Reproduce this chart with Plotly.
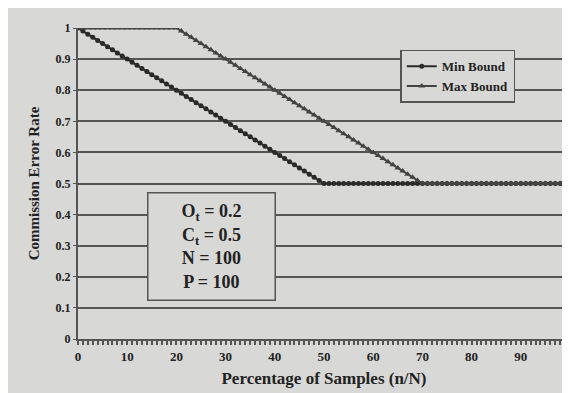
import plotly.graph_objects as go

pct = list(range(0, 101))
min_bound = [1.00, 0.99, 0.98, 0.97, 0.96, 0.95, 0.94, 0.93, 0.92, 0.91,
             0.90, 0.89, 0.88, 0.87, 0.86, 0.85, 0.84, 0.83, 0.82, 0.81,
             0.80, 0.79, 0.78, 0.77, 0.76, 0.75, 0.74, 0.73, 0.72, 0.71,
             0.70, 0.69, 0.68, 0.67, 0.66, 0.65, 0.64, 0.63, 0.62, 0.61,
             0.60, 0.59, 0.58, 0.57, 0.56, 0.55, 0.54, 0.53, 0.52, 0.51,
             0.50, 0.50, 0.50, 0.50, 0.50, 0.50, 0.50, 0.50, 0.50, 0.50,
             0.50, 0.50, 0.50, 0.50, 0.50, 0.50, 0.50, 0.50, 0.50, 0.50,
             0.50, 0.50, 0.50, 0.50, 0.50, 0.50, 0.50, 0.50, 0.50, 0.50,
             0.50, 0.50, 0.50, 0.50, 0.50, 0.50, 0.50, 0.50, 0.50, 0.50,
             0.50, 0.50, 0.50, 0.50, 0.50, 0.50, 0.50, 0.50, 0.50, 0.50,
             0.50]
max_bound = [1.00, 1.00, 1.00, 1.00, 1.00, 1.00, 1.00, 1.00, 1.00, 1.00,
             1.00, 1.00, 1.00, 1.00, 1.00, 1.00, 1.00, 1.00, 1.00, 1.00,
             1.00, 0.99, 0.98, 0.97, 0.96, 0.95, 0.94, 0.93, 0.92, 0.91,
             0.90, 0.89, 0.88, 0.87, 0.86, 0.85, 0.84, 0.83, 0.82, 0.81,
             0.80, 0.79, 0.78, 0.77, 0.76, 0.75, 0.74, 0.73, 0.72, 0.71,
             0.70, 0.69, 0.68, 0.67, 0.66, 0.65, 0.64, 0.63, 0.62, 0.61,
             0.60, 0.59, 0.58, 0.57, 0.56, 0.55, 0.54, 0.53, 0.52, 0.51,
             0.50, 0.50, 0.50, 0.50, 0.50, 0.50, 0.50, 0.50, 0.50, 0.50,
             0.50, 0.50, 0.50, 0.50, 0.50, 0.50, 0.50, 0.50, 0.50, 0.50,
             0.50, 0.50, 0.50, 0.50, 0.50, 0.50, 0.50, 0.50, 0.50, 0.50,
             0.50]
x_ticks = [0, 10, 20, 30, 40, 50, 60, 70, 80, 90]
y_ticks = [0, 0.1, 0.2, 0.3, 0.4, 0.5, 0.6, 0.7, 0.8, 0.9, 1]
y_tick_text = ["0", "0.1", "0.2", "0.3", "0.4", "0.5", "0.6", "0.7", "0.8", "0.9", "1"]
params_text = "<b>O<sub>t</sub> = 0.2<br>C<sub>t</sub> = 0.5<br>N = 100<br>P = 100</b>"

BG = "#d8d8d6"
INK = "#2a2a2a"
GRID = "#555555"
SERIF = "Liberation Serif"

fig = go.Figure()
fig.add_trace(go.Scatter(
    x=pct, y=min_bound, name="Min Bound", mode="lines+markers",
    line=dict(color=INK, width=2),
    marker=dict(symbol="circle", size=5, color=INK),
))
fig.add_trace(go.Scatter(
    x=pct, y=max_bound, name="Max Bound", mode="lines+markers",
    line=dict(color="#444444", width=2),
    marker=dict(symbol="triangle-up", size=6, color="#444444"),
))

fig.update_layout(
    width=570, height=393,
    margin=dict(l=70, r=8, t=20, b=62),
    paper_bgcolor=BG, plot_bgcolor=BG,
    font=dict(family=SERIF, color="#222222", size=12),
    showlegend=True,
    legend=dict(
        x=0.655, y=0.93, xanchor="left", yanchor="top",
        bgcolor=BG, bordercolor=GRID, borderwidth=1.5,
        font=dict(family=SERIF, size=13, weight="bold", color="#222222"),
        itemwidth=30, tracegroupgap=2,
    ),
    xaxis=dict(
        range=[0, 100], tickvals=x_ticks, ticks="outside", ticklen=4,
        tickcolor=GRID, tickwidth=1.5, showgrid=False, zeroline=False,
        showline=True, linecolor=GRID, linewidth=2, mirror=False,
        tickfont=dict(family=SERIF, size=13, weight="bold"),
        minor=dict(dtick=1, ticks="outside", ticklen=4, tickwidth=1.5,
                   tickcolor=GRID, showgrid=False),
        title=dict(text="Percentage of Samples (n/N)", standoff=10,
                   font=dict(family=SERIF, size=17, weight="bold")),
    ),
    yaxis=dict(
        range=[0, 1], tickvals=y_ticks, ticktext=y_tick_text,
        ticks="outside", ticklen=3, tickcolor=GRID,
        showgrid=True, gridcolor=GRID, gridwidth=1.6, zeroline=False,
        showline=True, linecolor=GRID, linewidth=2,
        tickfont=dict(family=SERIF, size=12, weight="bold"),
        title=dict(text="Commission Error Rate", standoff=12,
                   font=dict(family=SERIF, size=15, weight="bold")),
    ),
)

fig.add_shape(type="line", xref="paper", yref="paper", x0=1, x1=1, y0=0, y1=1,
              line=dict(color=GRID, width=1.6))

fig.add_annotation(
    xref="paper", yref="paper", x=0.272, y=0.296, xanchor="center", yanchor="middle",
    text=params_text, showarrow=False, align="center",
    font=dict(family=SERIF, size=18, color="#222222"),
    bgcolor=BG, bordercolor=GRID, borderwidth=1.5, width=124, height=104,
)

fig.write_html("out.html")
